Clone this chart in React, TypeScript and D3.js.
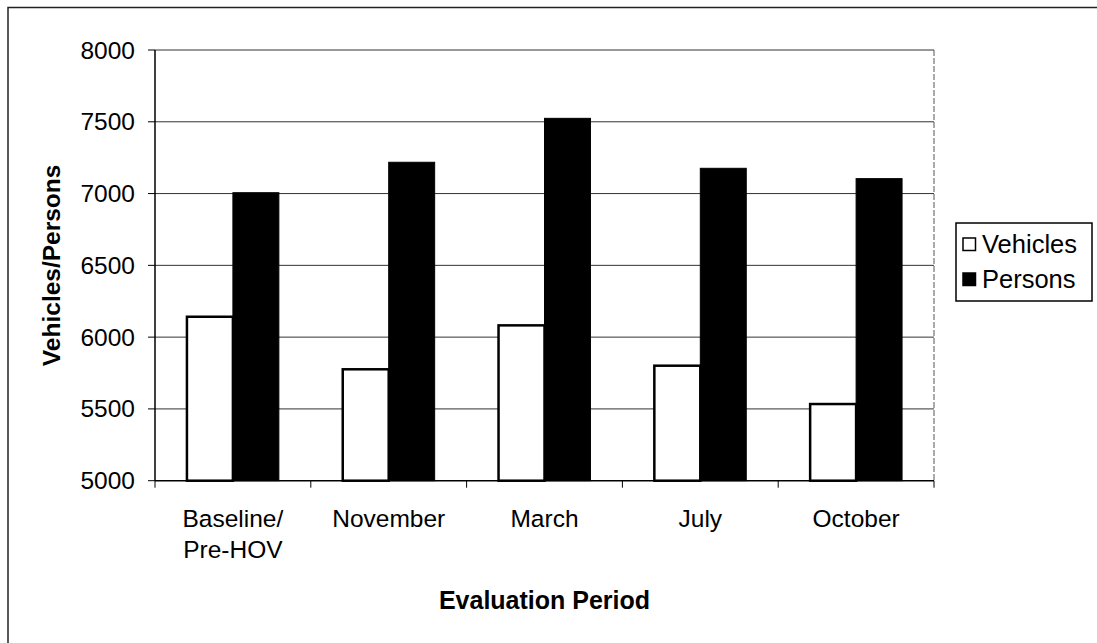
import React from "react";
import * as d3 from "d3";

const categories: string[][] = [["Baseline/", "Pre-HOV"], ["November"], ["March"], ["July"], ["October"]];
const seriesNames = ["Vehicles", "Persons"];
const vehicles = [6142, 5776, 6082, 5801, 5534];
const persons = [7006, 7218, 7524, 7176, 7104];
const yTicks = [5000, 5500, 6000, 6500, 7000, 7500, 8000];

const W = 1097;
const H = 643;
const plot = { left: 155, right: 934, top: 50, bottom: 480.7 };
const FONT = "'Liberation Sans', Arial, sans-serif";

export default function App() {
  const x = d3
    .scaleBand<number>()
    .domain(categories.map((_, i) => i))
    .range([plot.left, plot.right])
    .paddingInner(0.41)
    .paddingOuter(0.205);
  const xs = d3.scaleBand<string>().domain(seriesNames).range([0, x.bandwidth()]).padding(0);
  const y = d3.scaleLinear().domain([5000, 8000]).range([plot.bottom, plot.top]);
  const step = x.step();
  const series = [
    { name: "Vehicles", values: vehicles, fill: "#ffffff" },
    { name: "Persons", values: persons, fill: "#000000" },
  ];

  return (
    <svg
      width={W}
      height={H}
      style={{ position: "absolute", left: 0, top: 0, background: "#fff", fontFamily: FONT }}
    >
      <rect x={8} y={7.5} width={1200} height={700} fill="#fff" stroke="#222" strokeWidth={1.5} />
      {yTicks.map((t) =>
        t === 5000 ? null : (
          <line key={t} x1={plot.left} x2={plot.right} y1={y(t)} y2={y(t)} stroke="#333" strokeWidth={1} />
        )
      )}
      <line x1={plot.right} x2={plot.right} y1={plot.top} y2={plot.bottom} stroke="#555" strokeWidth={1} strokeDasharray="6,2" />
      {series.map((s) =>
        s.values.map((v, i) => {
          const bx = (x(i) as number) + (xs(s.name) as number);
          const by = y(v);
          return (
            <rect
              key={s.name + i}
              x={bx}
              y={by}
              width={xs.bandwidth()}
              height={plot.bottom - by}
              fill={s.fill}
              stroke="#000"
              strokeWidth={s.name === "Vehicles" ? 2.5 : 1}
            />
          );
        })
      )}
      <line x1={plot.left} x2={plot.left} y1={plot.top} y2={plot.bottom} stroke="#000" strokeWidth={1.5} />
      <line x1={plot.left} x2={plot.right} y1={plot.bottom} y2={plot.bottom} stroke="#000" strokeWidth={1.5} />
      {yTicks.map((t) => (
        <g key={"yt" + t}>
          <line x1={plot.left - 7} x2={plot.left} y1={y(t)} y2={y(t)} stroke="#000" strokeWidth={1} />
          <text x={135} y={y(t) + 8.5} textAnchor="end" fontSize={24.5} fill="#000">
            {t}
          </text>
        </g>
      ))}
      {d3.range(categories.length + 1).map((i) => (
        <line
          key={"xt" + i}
          x1={plot.left + i * step}
          x2={plot.left + i * step}
          y1={plot.bottom}
          y2={plot.bottom + 7}
          stroke="#000"
          strokeWidth={1}
        />
      ))}
      {categories.map((lines, i) => (
        <text key={"xl" + i} textAnchor="middle" fontSize={24.5} fill="#000">
          {lines.map((l, j) => (
            <tspan key={j} x={(x(i) as number) + x.bandwidth() / 2} y={526.5 + j * 31.8}>
              {l}
            </tspan>
          ))}
        </text>
      ))}
      <text x={(plot.left + plot.right) / 2} y={609} textAnchor="middle" fontSize={25} fontWeight="bold" fill="#000">
        Evaluation Period
      </text>
      <text
        transform={`translate(60,${(plot.top + plot.bottom) / 2}) rotate(-90)`}
        textAnchor="middle"
        fontSize={24.5}
        fontWeight="bold"
        fill="#000"
      >
        Vehicles/Persons
      </text>
      <rect x={956} y={223} width={136} height={78} fill="#fff" stroke="#000" strokeWidth={1.5} />
      {series.map((s, i) => (
        <g key={"lg" + s.name}>
          <rect x={963} y={253 + i * 35 - 15} width={12.5} height={12.5} fill={s.fill} stroke="#000" strokeWidth={1.5} />
          <text x={982} y={253 + i * 35} fontSize={25.5} fill="#000">
            {s.name}
          </text>
        </g>
      ))}
    </svg>
  );
}
